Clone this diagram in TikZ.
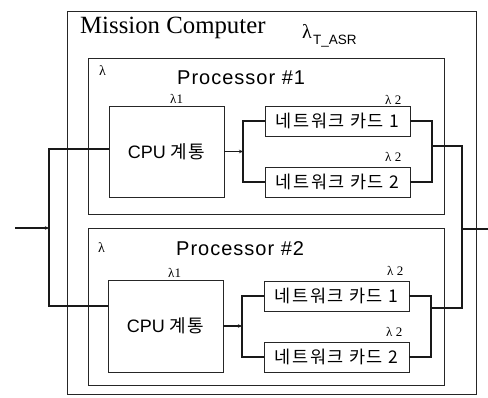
\documentclass[tikz,border=0pt]{standalone}
\usepackage{fontspec}
\setmainfont{Liberation Serif}
\setsansfont{Liberation Sans}
\newfontfamily\kr{Noto Sans CJK KR}[LetterSpace=9]
\newfontfamily\krcpu{Noto Sans CJK KR}[LetterSpace=6]
\newfontfamily\psans{Liberation Sans}[LetterSpace=5]
\usetikzlibrary{arrows.meta}
\tikzset{
  box/.style={draw=black!85, line width=0.7pt, inner sep=0pt},
  cpubox/.style={box, minimum width=115pt, minimum height=92pt, font=\sffamily\fontsize{18}{20}\selectfont},
  cardbox/.style={box, minimum width=145pt, minimum height=30pt, font=\kr\fontsize{17.5}{19}\selectfont},
  conn/.style={line width=1.1pt, black!90},
  tip/.style={-{Stealth[length=4pt,width=3.5pt]}},
  lam/.style={inner sep=0pt, anchor=base west, font=\fontsize{13}{15}\selectfont},
  ptitle/.style={inner sep=0pt, anchor=base west, font=\psans\fontsize{20}{22}\selectfont},
}
\begin{document}
\begin{tikzpicture}[x=1pt,y=-1pt]
\useasboundingbox (0,0) rectangle (488,397);
\fill[white] (0,0) rectangle (488,397);
% outer and processor boxes
\node[box, minimum width=409pt, minimum height=383pt] (mc) at (271.5,202.5) {};
\node[box, minimum width=356pt, minimum height=156pt] (p1) at (266,136.5) {};
\node[box, minimum width=356pt, minimum height=157pt] (p2) at (266,306.5) {};
% titles
\node[inner sep=0pt, anchor=base west, font=\fontsize{24.8}{26}\selectfont] (mct) at (80,33) {Mission Computer};
\node[inner sep=0pt, anchor=base west, font=\fontsize{20}{22}\selectfont] (lt) at (302,38) {λ};
\node[inner sep=0pt, anchor=base west, font=\sffamily\fontsize{13.5}{15}\selectfont] (ltsub) at (313,44) {T\_ASR};
\node[lam, font=\fontsize{14}{16}\selectfont] (lp1) at (99,75) {λ};
\node[lam, font=\fontsize{14}{16}\selectfont] (lp2) at (98,252) {λ};
\node[ptitle] (pt1) at (177,84) {Processor \#1};
\node[ptitle] (pt2) at (176,255) {Processor \#2};
% CPU boxes
\node[cpubox, minimum height=91pt] (cpu1) at (166.5,151.5) {CPU {\krcpu 계통}};
\node[cpubox, minimum height=92pt] (cpu2) at (165.5,326) {CPU {\krcpu 계통}};
% network cards
\node[cardbox] (n11) at (337.5,121) {네트워크 카드 1};
\node[cardbox] (n12) at (337.5,182) {네트워크 카드 2};
\node[cardbox] (n21) at (336.5,296) {네트워크 카드 1};
\node[cardbox] (n22) at (336.5,357) {네트워크 카드 2};
% lambda labels
\node[lam] (l11) at (170,103) {λ1};
\node[lam] (l21) at (168,277) {λ1};
\node[lam] (lc11) at (385,104) {λ 2};
\node[lam] (lc12) at (385,161) {λ 2};
\node[lam] (lc21) at (387,275) {λ 2};
\node[lam] (lc22) at (386,336) {λ 2};
% coordinates
\coordinate (in) at (15,228);
\coordinate (jin) at (49,228);
\coordinate (bl1) at (49,149);
\coordinate (bl2) at (49,306);
\coordinate (jc1) at (243,151.5);
\coordinate (jc2) at (242,326);
\coordinate (r1) at (432,146);
\coordinate (r2) at (431,308);
\coordinate (R1) at (462,146);
\coordinate (R2) at (462,308);
\coordinate (Ro) at (462,229);
\coordinate (out) at (488,229);
% input side
\draw[conn, tip] (in) -- (jin);
\draw[conn] (cpu1.west |- bl1) -- (bl1) -- (bl2) -- (cpu2.west |- bl2);
% processor 1
\draw[conn, tip] (cpu1.east) -- (jc1);
\draw[conn] (n11.west) -| (jc1) |- (n12.west);
\draw[conn] (n11.east) -| (r1) |- (n12.east);
% processor 2
\draw[conn, tip] (cpu2.east) -- (jc2);
\draw[conn] (n21.west) -| (jc2) |- (n22.west);
\draw[conn] (n21.east) -| (r2) |- (n22.east);
% output side
\draw[conn] (r1) -- (R1) -- (R2) -- (r2);
\draw[conn] (Ro) -- (out);
\end{tikzpicture}
\end{document}
